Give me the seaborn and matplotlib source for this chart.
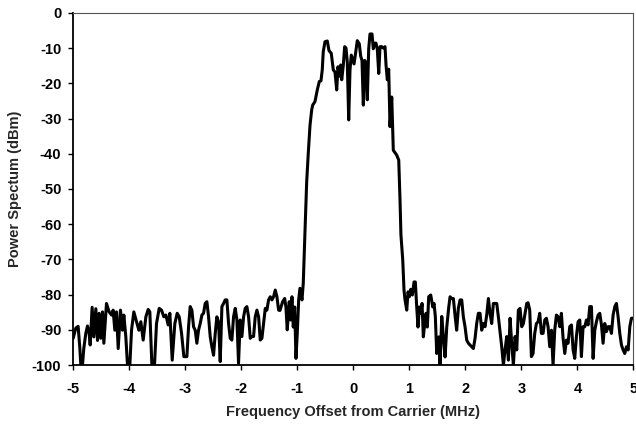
import numpy as np
import pandas as pd
import matplotlib.pyplot as plt
import seaborn as sns

# spectrum: noise floor left of the carrier
left_freq = [-5.000, -4.952, -4.911, -4.881, -4.863, -4.833, -4.810, -4.774, -4.744, -4.714,
             -4.696, -4.661, -4.631, -4.595, -4.565, -4.536, -4.506, -4.476, -4.452, -4.405,
             -4.357, -4.315, -4.286, -4.256, -4.226, -4.196, -4.155, -4.119, -4.095, -4.060,
             -4.030, -3.988, -3.958, -3.917, -3.869, -3.827, -3.792, -3.750, -3.702, -3.661,
             -3.631, -3.595, -3.548, -3.512, -3.464, -3.423, -3.381, -3.345, -3.304, -3.274,
             -3.232, -3.185, -3.143, -3.107, -3.065, -3.024,
             -2.970, -2.940, -2.911, -2.881, -2.851, -2.821, -2.792, -2.762, -2.732, -2.702,
             -2.673, -2.643, -2.613, -2.583, -2.554, -2.524, -2.494, -2.464, -2.435, -2.405,
             -2.375, -2.345, -2.315, -2.286, -2.256, -2.226, -2.196, -2.167, -2.137, -2.107,
             -2.077, -2.048, -2.018, -1.988, -1.958, -1.929, -1.899, -1.869, -1.839, -1.810,
             -1.780, -1.750, -1.720, -1.690, -1.661, -1.631, -1.601, -1.571, -1.542, -1.512,
             -1.482, -1.452, -1.423, -1.393, -1.363, -1.333,
             -1.309, -1.261, -1.225, -1.202, -1.179, -1.143, -1.118, -1.095, -1.071, -1.046,
             -1.023, -1.000, -0.975, -0.952, -0.916]
left_power = [-92.4, -89.5, -89.0, -95.0, -100.0, -100.0, -95.3, -91.0, -88.9, -91.0,
              -94.3, -83.6, -92.0, -84.0, -93.0, -85.3, -92.4, -84.9, -93.8, -82.5,
              -84.9, -85.8, -84.4, -90.1, -84.9, -95.3, -84.4, -90.1, -85.8, -91.9,
              -100.0, -100.0, -90.1, -84.9, -87.7, -90.1, -87.7, -92.9, -86.3, -84.2,
              -84.9, -100.0, -100.0, -88.2, -83.9, -84.4, -86.3, -85.8, -88.6, -85.3,
              -98.6, -88.2, -85.3, -86.3, -91.0, -97.6,
              -97.6, -89.1, -83.4, -84.4, -89.1, -90.1, -93.8, -90.1, -88.2, -85.8,
              -85.3, -82.5, -82.0, -86.3, -91.9, -94.8, -97.2, -91.0, -86.3, -87.7,
              -99.0, -83.4, -82.5, -81.5, -81.5, -88.2, -92.4, -92.9, -86.3, -83.9,
              -87.2, -99.5, -87.2, -91.9, -86.3, -83.9, -83.4, -86.3, -92.4, -91.9,
              -91.9, -86.3, -84.4, -86.3, -92.9, -92.4, -88.2, -83.9, -84.4, -81.5,
              -80.6, -81.5, -80.6, -78.7, -80.6, -84.4,
              -84.5, -82.0, -81.1, -83.5, -90.0, -82.0, -87.2, -80.6, -89.2, -83.5,
              -98.1, -91.0, -81.5, -78.2, -81.5]

# occupied band around the carrier
band_freq = [-0.893, -0.880, -0.862, -0.832, -0.804, -0.773, -0.743, -0.725, -0.684, -0.643,
             -0.607, -0.577, -0.554, -0.536, -0.505, -0.464, -0.434, -0.393, -0.357, -0.327,
             -0.296, -0.273, -0.250, -0.225, -0.207, -0.179, -0.154, -0.130, -0.107, -0.082,
             -0.059, -0.036, -0.011, 0.013, 0.036, 0.071, 0.107, 0.132, 0.155, 0.179,
             0.204, 0.227, 0.250, 0.275, 0.298, 0.334, 0.357, 0.382, 0.405, 0.429,
             0.454, 0.477, 0.507, 0.536, 0.566, 0.584, 0.607, 0.632, 0.655, 0.686,
             0.714, 0.775, 0.811, 0.834, 0.850, 0.882]
band_power = [-76.8, -70.2, -62.0, -48.0, -40.0, -32.0, -27.6, -26.2, -25.2, -21.9,
              -19.5, -19.3, -16.2, -11.0, -8.2, -8.0, -10.7, -11.5, -16.2, -16.8,
              -21.9, -15.3, -18.0, -14.8, -19.0, -15.0, -9.6, -10.0, -14.0, -30.4,
              -16.2, -12.0, -13.3, -14.5, -12.0, -7.9, -8.8, -12.3, -13.5, -26.2,
              -13.5, -14.5, -24.7, -10.2, -6.0, -6.0, -10.2, -8.6, -8.6, -10.4,
              -17.2, -9.6, -9.6, -10.0, -9.6, -14.8, -19.0, -16.0, -32.3, -23.9,
              -39.0, -40.4, -41.8, -53.2, -63.0, -70.0]

# noise floor right of the carrier
right_freq = [0.905, 0.923, 0.954, 0.977, 1.000, 1.025, 1.054, 1.084, 1.107, 1.132,
              1.155, 1.179, 1.204, 1.227, 1.250, 1.275, 1.298, 1.321, 1.346, 1.382,
              1.418, 1.441, 1.464, 1.489, 1.525, 1.548, 1.579, 1.607, 1.638, 1.668,
              1.704, 1.727, 1.756, 1.786, 1.815, 1.845, 1.875, 1.905, 1.935, 1.964,
              1.994, 2.024, 2.054, 2.083, 2.113, 2.143, 2.173, 2.202, 2.232, 2.262,
              2.292, 2.321, 2.351, 2.381, 2.411, 2.440, 2.470, 2.500, 2.530, 2.560,
              2.589, 2.619, 2.649, 2.679, 2.708, 2.738, 2.768, 2.798, 2.827, 2.857,
              2.887, 2.917, 2.946, 2.976, 3.006, 3.036, 3.065, 3.095, 3.119, 3.149,
              3.179, 3.208, 3.238, 3.268, 3.298, 3.327, 3.357, 3.387, 3.417, 3.446,
              3.476, 3.506, 3.536, 3.565, 3.595, 3.625, 3.655, 3.685, 3.714, 3.744,
              3.774, 3.804, 3.833, 3.863, 3.893, 3.923, 3.952, 3.982, 4.012, 4.042,
              4.071, 4.101, 4.131, 4.161, 4.190, 4.220, 4.250, 4.280, 4.310, 4.339,
              4.369, 4.399, 4.429, 4.458, 4.488, 4.518, 4.548, 4.577, 4.607, 4.637,
              4.667, 4.696, 4.726, 4.756, 4.786, 4.815, 4.845, 4.875, 4.905, 4.935,
              4.964, 5.000]
right_power = [-78.7, -81.5, -84.4, -79.2, -80.6, -78.5, -80.1, -76.4, -76.4, -83.5,
               -89.2, -83.5, -85.3, -82.5, -92.0, -88.2, -85.3, -89.2, -80.6, -80.1,
               -83.5, -82.5, -86.2, -96.7, -92.0, -100.0, -86.2, -92.0, -97.7, -89.2,
               -83.5, -80.6, -81.1, -81.1, -85.8, -90.1, -83.9, -81.5, -81.5, -86.3,
               -89.1, -92.9, -93.8, -94.3, -94.8, -95.3, -92.4, -88.2, -85.3, -85.3,
               -90.1, -88.2, -89.1, -85.8, -81.1, -85.3, -88.2, -82.5, -82.5, -82.5,
               -86.3, -90.5, -94.8, -100.0, -95.7, -91.9, -98.6, -86.7, -93.8, -100.0,
               -91.9, -95.7, -84.4, -83.9, -89.1, -88.2, -85.3, -82.5, -82.3, -84.4,
               -97.6, -96.7, -91.0, -88.2, -87.7, -85.3, -91.0, -91.0, -87.2, -86.7,
               -89.1, -94.8, -90.1, -100.0, -90.1, -85.8, -86.3, -89.1, -85.3, -92.4,
               -96.7, -92.9, -93.8, -89.1, -88.6, -95.7, -98.1, -91.9, -87.7, -87.2,
               -97.6, -89.1, -89.1, -87.2, -88.6, -83.4, -83.4, -98.1, -90.1, -87.7,
               -85.8, -85.3, -88.6, -93.8, -88.2, -90.5, -89.1, -89.1, -91.0, -85.8,
               -83.4, -82.5, -86.3, -91.0, -94.3, -95.7, -96.7, -94.8, -95.7, -89.1,
               -86.7, -86.7]

freq = left_freq + band_freq + right_freq
power = left_power + band_power + right_power
df = pd.DataFrame({'freq': freq, 'power': power})

sns.set_theme(style="ticks")
plt.rcParams['font.family'] = ['Liberation Sans', 'DejaVu Sans']
plt.rcParams['font.weight'] = 'bold'
plt.rcParams['axes.unicode_minus'] = False

fig = plt.figure(figsize=(6.36, 4.28), dpi=100)
ax = fig.add_axes([0.115, 0.147, 0.881, 0.823])

sns.lineplot(data=df, x='freq', y='power', color='black', linewidth=2.2,
             sort=False, estimator=None, ax=ax)
for line in ax.get_lines():
    line.set_solid_joinstyle('round')
    line.set_solid_capstyle('round')

ax.set_xlim(-5, 5)
ax.set_ylim(-100, 0)
ax.set_xticks(np.arange(-5, 6, 1))
ax.set_yticks(np.arange(-100, 1, 10))
ax.tick_params(direction='out', length=3.5, width=1, colors='black', labelsize=10.5)
ax.tick_params(axis='x', pad=9)
ax.tick_params(axis='y', pad=5)
for lab in ax.get_xticklabels() + ax.get_yticklabels():
    lab.set_fontweight('bold')

for side in ['left', 'bottom']:
    ax.spines[side].set_linewidth(1.3)
    ax.spines[side].set_color('black')
for side in ['top', 'right']:
    ax.spines[side].set_visible(True)
    ax.spines[side].set_linewidth(0.8)
    ax.spines[side].set_color('#555555')

ax.set_xlabel('Frequency Offset from Carrier (MHz)', fontsize=10.5, fontweight='bold', labelpad=6)
ax.set_ylabel('Power Spectum (dBm)', fontsize=10.5, fontweight='bold', labelpad=7)

fig.savefig('out.png', dpi=100)
